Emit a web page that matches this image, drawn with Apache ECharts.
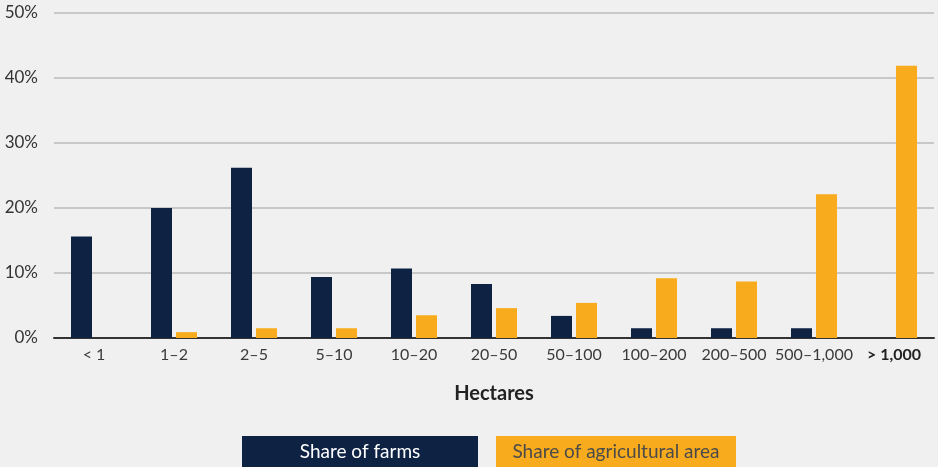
<!DOCTYPE html>
<html><head><meta charset="utf-8">
<script src="https://cdn.jsdelivr.net/npm/echarts@6/dist/echarts.min.js"></script>
<style>html,body{margin:0;padding:0;background:#eff0ef;}#c{width:938px;height:467px;}</style>
</head><body><div id="c"></div>
<script>
const categories = ['< 1','1–2','2–5','5–10','10–20','20–50','50–100','100–200','200–500','500–1,000','> 1,000'];
const shareFarms = [15.6, 20.0, 26.2, 9.4, 10.7, 8.3, 3.4, 1.5, 1.5, 1.5, 0];
const shareArea = [0, 0.9, 1.5, 1.5, 3.5, 4.6, 5.4, 9.2, 8.7, 22.1, 41.9];
const yTicks = [0, 10, 20, 30, 40, 50];

const FONT = 'Lato, "Open Sans", sans-serif';
const chart = echarts.init(document.getElementById('c'), null, {renderer:'canvas'});
chart.setOption({
  backgroundColor: '#eff0ef',
  animation: false,
  textStyle: {fontFamily: FONT},
  grid: {left: 54, right: 4, top: 13, bottom: 129},
  legend: {
    left: 232, top: 431, itemGap: 13, itemWidth: 0, itemHeight: 0, icon: 'none',
    selectedMode: false,
    formatter: function (name) {
      return name === 'Share of farms' ? '{a|' + name + '}' : '{b|' + name + '}';
    },
    textStyle: {
      rich: {
        a: {color: '#ffffff', backgroundColor: '#0e2244', width: 236, height: 31, lineHeight: 31, align: 'center', fontSize: 19, fontFamily: FONT},
        b: {color: '#4a4a4a', backgroundColor: '#f8ac1d', width: 240, height: 31, lineHeight: 31, align: 'center', fontSize: 19, fontFamily: FONT}
      }
    },
    data: ['Share of farms', 'Share of agricultural area']
  },
  xAxis: {
    type: 'category', data: categories,
    name: 'Hectares', nameLocation: 'middle', nameGap: 46,
    nameTextStyle: {fontSize: 20, fontWeight: 'bold', color: '#222', fontFamily: FONT},
    axisLine: {lineStyle: {color: '#333', width: 2}},
    axisTick: {show: false},
    axisLabel: {
      interval: 0,
      fontSize: 16, color: '#3a3a3a', margin: 9, fontFamily: FONT,
      formatter: function (v) { return v === '> 1,000' ? '{b|' + v + '}' : v; },
      rich: {b: {fontWeight: 'bold', fontSize: 16, color: '#222', fontFamily: FONT}}
    }
  },
  yAxis: {
    type: 'value', min: yTicks[0], max: yTicks[yTicks.length - 1], interval: 10,
    axisLine: {show: false}, axisTick: {show: false},
    axisLabel: {formatter: '{value}%', fontSize: 17, color: '#333', margin: 16, fontFamily: FONT},
    splitLine: {lineStyle: {color: '#c8c8c8', width: 2}}
  },
  series: [
    {name: 'Share of farms', type: 'bar', data: shareFarms, barWidth: 21, barGap: '19%', itemStyle: {color: '#0e2244'}},
    {name: 'Share of agricultural area', type: 'bar', data: shareArea, barWidth: 21, itemStyle: {color: '#f8ac1d'}}
  ]
});
</script></body></html>
